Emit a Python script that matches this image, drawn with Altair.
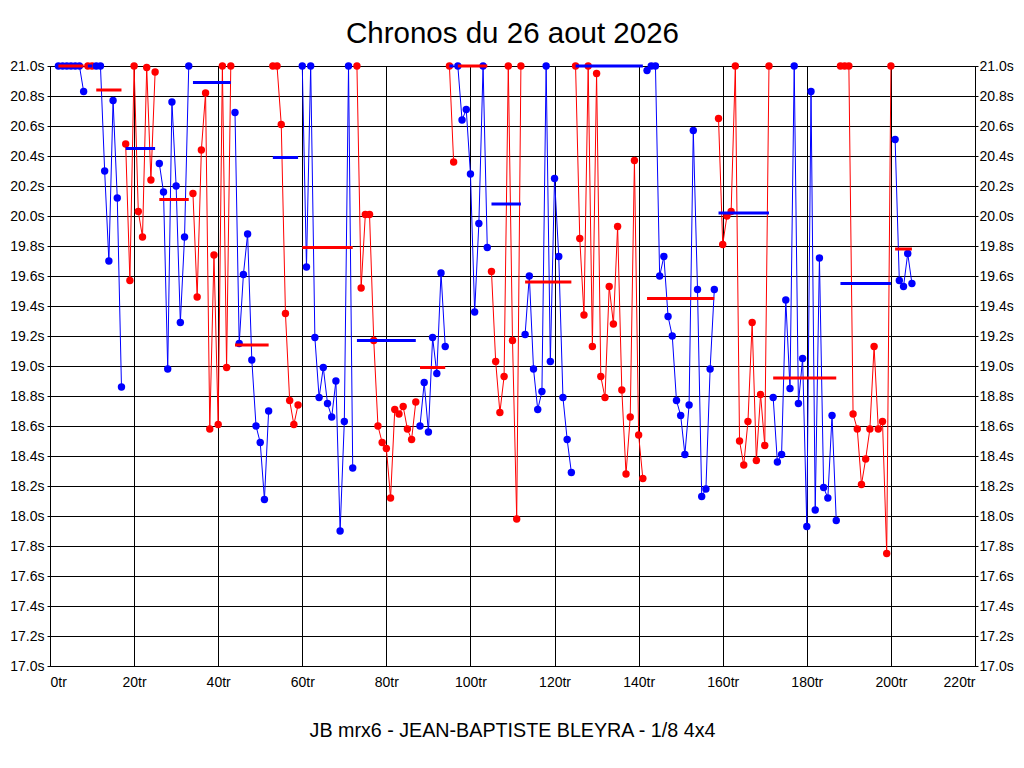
import altair as alt
import pandas as pd

title_text = "Chronos du 26 aout 2026"
subtitle_text = "JB mrx6 - JEAN-BAPTISTE BLEYRA - 1/8 4x4"

# first lap number of each stint and the colour of its laps
stint_start = [2, 9, 11, 18, 26, 34, 44, 53, 60, 73, 88, 95, 97, 105, 113, 125, 142, 159, 172, 188, 201]
stint_color = ["blue", "red"] * 10 + ["blue"]

# lap times (s) of each stint (values > 21 s shown at 21.0)
stint_times = [
    [21.0, 21.0, 21.0, 21.0, 21.0, 21.0, 20.83],
    [21.0, 21.0],
    [21.0, 21.0, 20.30, 19.70, 20.77, 20.12, 18.86],
    [20.48, 19.57, 21.0, 20.03, 19.86, 20.99, 20.24, 20.96],
    [20.35, 20.16, 18.98, 20.76, 20.20, 19.29, 19.86, 21.0],
    [20.15, 19.46, 20.44, 20.82, 18.58, 19.74, 18.61, 21.0, 18.99, 21.0],
    [20.69, 19.15, 19.61, 19.88, 19.04, 18.60, 18.49, 18.11, 18.70],
    [21.0, 21.0, 20.61, 19.35, 18.77, 18.61, 18.74],
    [21.0, 19.66, 21.0, 19.19, 18.79, 18.99, 18.75, 18.66, 18.90, 17.90, 18.63, 21.0, 18.32],
    [21.0, 19.52, 20.01, 20.01, 19.17, 18.60, 18.49, 18.45, 18.12, 18.71, 18.68, 18.73, 18.58, 18.51, 18.76],
    [18.60, 18.89, 18.56, 19.19, 18.95, 19.62, 19.13],
    [21.0, 20.36],
    [21.0, 20.64, 20.71, 20.28, 19.36, 19.95, 21.0, 19.79],
    [19.63, 19.03, 18.69, 18.93, 21.0, 19.17, 17.98, 21.0],
    [19.21, 19.60, 18.98, 18.71, 18.83, 21.0, 19.03, 20.25, 19.73, 18.79, 18.51, 18.29],
    [21.0, 19.85, 19.34, 21.0, 19.13, 20.95, 18.93, 18.79, 19.53, 19.28, 19.93, 18.84, 18.28, 18.66, 20.37, 18.54, 18.25],
    [20.97, 21.0, 21.0, 19.60, 19.73, 19.33, 19.20, 18.77, 18.67, 18.41, 18.74, 20.57, 19.51, 18.13, 18.18, 18.98, 19.51],
    [20.65, 19.81, 20.00, 20.03, 21.0, 18.50, 18.34, 18.63, 19.29, 18.37, 18.81, 18.47, 21.0],
    [18.79, 18.36, 18.41, 19.44, 18.85, 21.0, 18.75, 19.05, 17.93, 20.83, 18.04, 19.72, 18.19, 18.12, 18.67, 17.97],
    [21.0, 21.0, 21.0, 18.68, 18.58, 18.21, 18.38, 18.58, 19.13, 18.58, 18.63, 17.75, 21.0],
    [20.51, 19.57, 19.53, 19.75, 19.55],
]

# stint average bars (drawn over each stint, in the other colour)
bar_value = [21.0, 21.0, 20.84, 20.45, 20.11, 20.89, 19.14, 20.39, 19.79, 19.17, 18.99,
             21.0, 21.0, 20.08, 19.56, 21.0, 19.45, 20.02, 18.92, 19.55, 19.78]
bar_color = ["red", "blue"] * 10 + ["red"]

y_ticks = [round(17 + 0.2 * i, 1) for i in range(21)]
x_ticks = list(range(0, 221, 20))

hexcol = {"blue": "#0000ff", "red": "#ff0000"}

rows = []
bars = []
for k, (s, times) in enumerate(zip(stint_start, stint_times)):
    for i, v in enumerate(times):
        rows.append({"lap": s + i, "time": v, "stint": k, "color": hexcol[stint_color[k]]})
    bars.append({"start": s, "end": s + len(times) - 1, "value": bar_value[k],
                 "color": hexcol[bar_color[k]]})
pts = pd.DataFrame(rows)
bar_df = pd.DataFrame(bars)

xscale = alt.Scale(domain=[0, 220], nice=False, zero=False)
yscale = alt.Scale(domain=[17, 21], nice=False, zero=False)

xaxis = alt.Axis(values=x_ticks, labelExpr="datum.value + 'tr'", title=None, ticks=False,
                 labelPadding=9, grid=True, labelOverlap=False)
yaxis_left = alt.Axis(values=y_ticks, labelExpr="format(datum.value, '.1f') + 's'", title=None,
                      tickSize=3, labelPadding=3, grid=True, labelOverlap=False,
                      tickCount=21)
yaxis_right = alt.Axis(values=y_ticks, labelExpr="format(datum.value, '.1f') + 's'", title=None,
                       tickSize=3, labelPadding=1, grid=False, orient="right",
                       labelOverlap=False, tickCount=21)

base = alt.Chart(pts)

lines = base.mark_line(strokeWidth=1).encode(
    x=alt.X("lap:Q", scale=xscale, axis=xaxis),
    y=alt.Y("time:Q", scale=yscale, axis=yaxis_left),
    detail="stint:N",
    color=alt.Color("color:N", scale=None),
)
points = base.mark_circle(size=55, opacity=1).encode(
    x=alt.X("lap:Q", scale=xscale),
    y=alt.Y("time:Q", scale=yscale),
    color=alt.Color("color:N", scale=None),
)
bar_layer = alt.Chart(bar_df).mark_rule(strokeWidth=3).encode(
    x=alt.X("start:Q", scale=xscale),
    x2="end:Q",
    y=alt.Y("value:Q", scale=yscale),
    color=alt.Color("color:N", scale=None),
)
main = alt.layer(lines, points, bar_layer)

right = base.mark_point(opacity=0).encode(
    x=alt.X("lap:Q", scale=xscale),
    y=alt.Y("time:Q", scale=yscale, axis=yaxis_right),
)

title_layer = alt.Chart(pd.DataFrame({"label": [title_text]})).mark_text(
    font="Liberation Sans", fontSize=29.5, baseline="alphabetic", align="center", color="black"
).encode(x=alt.value(462.5), y=alt.value(-23), text="label:N")

sub_layer = alt.Chart(pd.DataFrame({"label": [subtitle_text]})).mark_text(
    font="Liberation Sans", fontSize=19.7, baseline="alphabetic", align="center", color="black"
).encode(x=alt.value(462.5), y=alt.value(671), text="label:N")

chart = alt.layer(main, right, title_layer, sub_layer).resolve_scale(y="independent").properties(
    width=925, height=600,
    autosize=alt.AutoSizeParams(type="none"),
    padding={"left": 42, "top": 58, "right": 41, "bottom": 94},
    background="white",
).configure_view(stroke="black", strokeWidth=1).configure_axis(
    gridColor="black", gridOpacity=1, gridWidth=1, domain=False,
    labelFont="Liberation Sans", labelFontSize=14, labelColor="black", tickColor="black",
)

chart.save("out.html", embed_options={"renderer": "svg", "actions": False})
